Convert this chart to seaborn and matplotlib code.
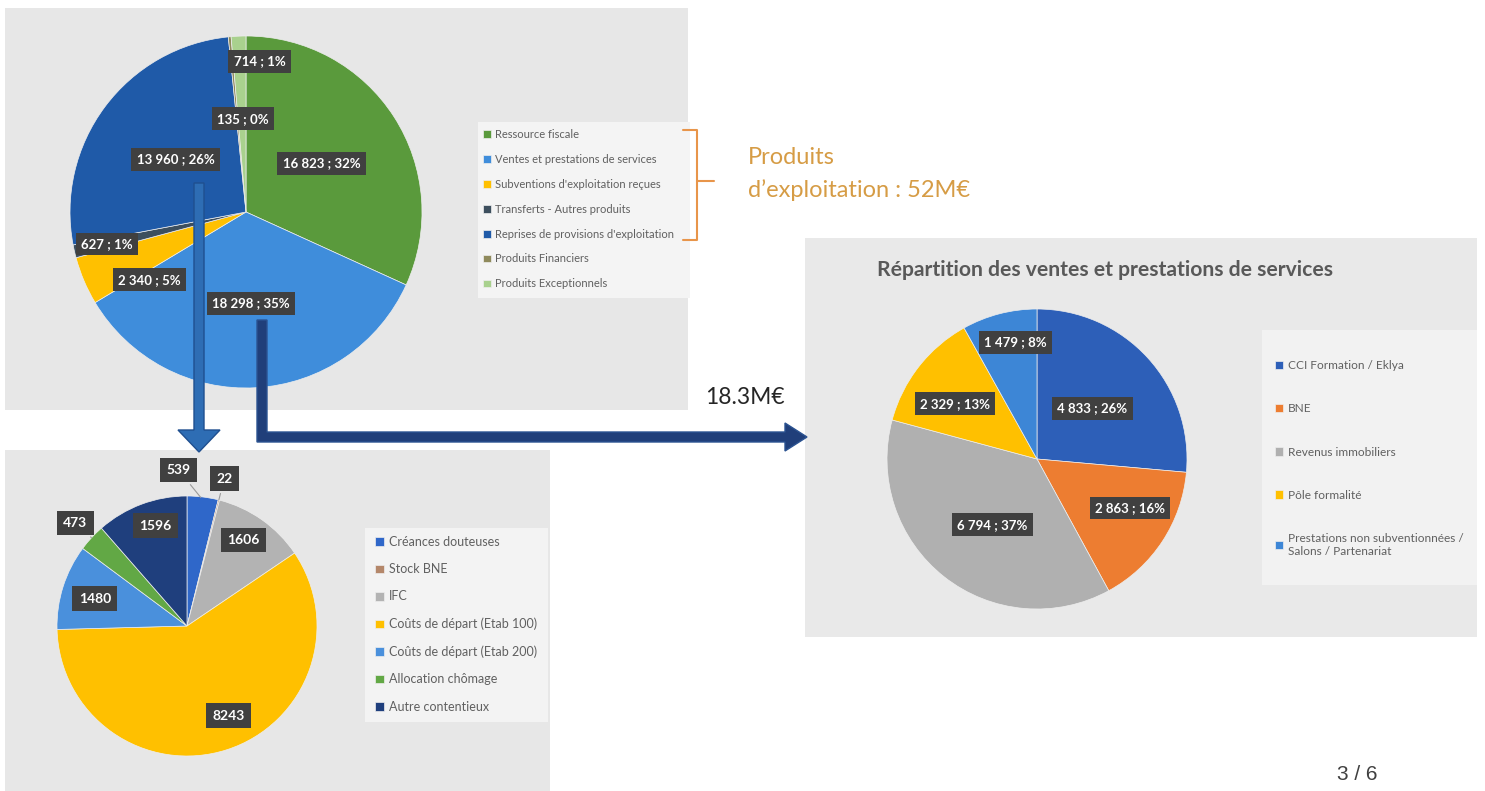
import numpy as np
import matplotlib.pyplot as plt
from matplotlib.patches import Rectangle, FancyArrow, Polygon
from matplotlib.lines import Line2D
import seaborn as sns

sns.set_theme(style="white")
plt.rcParams['font.family'] = ['Lato', 'DejaVu Sans']

# --- data ---
prod_names = ['Ressource fiscale', 'Ventes et prestations de services',
              "Subventions d'exploitation reçues", 'Transferts - Autres produits',
              "Reprises de provisions d'exploitation", 'Produits Financiers',
              'Produits Exceptionnels']
prod_values = [16823, 18298, 2340, 627, 13960, 135, 714]
prod_pcts = [32, 35, 5, 1, 26, 0, 1]

prov_names = ['Créances douteuses', 'Stock BNE', 'IFC', 'Coûts de départ (Etab 100)',
              'Coûts de départ (Etab 200)', 'Allocation chômage', 'Autre contentieux']
prov_values = [539, 22, 1606, 8243, 1480, 473, 1596]

vente_names = ['CCI Formation / Eklya', 'BNE', 'Revenus immobiliers', 'Pôle formalité',
               'Prestations non subventionnées /\nSalons / Partenariat']
vente_values = [4833, 2863, 6794, 2329, 1479]
vente_pcts = [26, 16, 37, 13, 8]

# --- styles ---
prod_colors = ['#5a9a3c', '#3f8ddb', '#ffc000', '#3d4f5e', '#1f5aa8', '#8f8a5c', '#a9d18e']
prov_colors = ['#2f67c9', '#b4876a', '#b3b3b3', '#ffc000', '#4a90dc', '#62a845', '#1f3f7d']
vente_colors = ['#2d5fb8', '#ed7d31', '#b0b0b0', '#ffc000', '#3d86d6']

W, H = 1485, 791
fig = plt.figure(figsize=(W / 100, H / 100), dpi=100)
fig.patch.set_facecolor('white')

def panel(x0, y0, x1, y1, color):
    fig.patches.append(Rectangle((x0 / W, 1 - y1 / H), (x1 - x0) / W, (y1 - y0) / H,
                                 transform=fig.transFigure, fc=color, ec='none', zorder=-5))

panel(5, 8, 688, 410, '#e7e7e7')
panel(478, 122, 690, 298, '#f4f4f4')
panel(5, 450, 550, 791, '#e7e7e7')
panel(365, 528, 548, 722, '#f3f3f3')
panel(805, 238, 1477, 637, '#e9e9e9')
panel(1262, 330, 1477, 585, '#f2f2f2')

def pie_axes(cx, cy, r, k=1.35):
    ax = fig.add_axes([(cx - k * r) / W, (H - cy - k * r) / H, 2 * k * r / W, 2 * k * r / H])
    ax.patch.set_alpha(0)
    return ax, k

def draw_pie(cx, cy, r, values, colors, texts, radii, shifts, fs, pad):
    box = dict(boxstyle=f'square,pad={pad}', fc='#404040', ec='none')
    ax, k = pie_axes(cx, cy, r)
    wedges, _ = ax.pie(values, colors=colors, startangle=90, counterclock=False,
                       wedgeprops=dict(linewidth=0.5, edgecolor='#eeeeee'))
    for w, t, rr, da in zip(wedges, texts, radii, shifts):
        mid = (w.theta1 + w.theta2) / 2
        ang = np.deg2rad(mid + da)
        pos = (rr * np.cos(ang), rr * np.sin(ang))
        if rr > 1:
            edge = (0.98 * np.cos(np.deg2rad(mid)), 0.98 * np.sin(np.deg2rad(mid)))
            ax.annotate(t, xy=edge, xytext=pos, ha='center', va='center', color='white',
                        fontsize=fs, fontweight='bold', bbox=box,
                        arrowprops=dict(arrowstyle='-', color='#9a9a9a', lw=0.8))
        else:
            ax.text(pos[0], pos[1], t, ha='center', va='center', color='white',
                    fontsize=fs, fontweight='bold', bbox=box)
    ax.set_xlim(-k, k)
    ax.set_ylim(-k, k)
    ax.set_aspect('auto')
    ax.axis('off')
    return wedges

def fmt(v):
    return f'{v:,}'.replace(',', ' ')

# top pie: produits
w_prod = draw_pie(246, 212, 176, prod_values, prod_colors,
                  [f'{fmt(v)} ; {p}%' for v, p in zip(prod_values, prod_pcts)],
                  [0.51, 0.52, 0.67, 0.81, 0.5, 0.53, 0.86],
                  [0, 0, 12, 0, 0, -3.5, -7.5], 9.5, 0.4)

# bottom-left pie: reprises de provisions
w_prov = draw_pie(187, 626, 130, prov_values, prov_colors,
                  [str(v) for v in prov_values],
                  [1.2, 1.17, 0.79, 0.76, 0.74, 1.17, 0.81],
                  [10, 0, 2, 7, 1, 0, -3], 10, 0.45)

# right pie: ventes et prestations
w_vente = draw_pie(1037, 459, 150, vente_values, vente_colors,
                   [f'{fmt(v)} ; {p}%' for v, p in zip(vente_values, vente_pcts)],
                   [0.5, 0.7, 0.53, 0.66, 0.79],
                   [0, 5.5, 4, 4, -4], 9.5, 0.4)

leg_kw = dict(loc='upper left', frameon=False, handlelength=0.7, handleheight=0.7,
              handletextpad=0.4, borderpad=0, borderaxespad=0, labelcolor='#606060')
fig.legend(w_prod, prod_names, bbox_to_anchor=(483 / W, 1 - 129 / H), fontsize=8,
           labelspacing=1.25, **leg_kw)
fig.legend(w_prov, prov_names, bbox_to_anchor=(375 / W, 1 - 536 / H), fontsize=9,
           labelspacing=1.22, **leg_kw)
fig.legend(w_vente, vente_names, bbox_to_anchor=(1275 / W, 1 - 360 / H), fontsize=8.6,
           labelspacing=2.7, **leg_kw)

# overlay in pixel coordinates for arrows and notes
ov = fig.add_axes([0, 0, 1, 1])
ov.set_xlim(0, W)
ov.set_ylim(H, 0)
ov.axis('off')
ov.patch.set_alpha(0)

ov.add_patch(FancyArrow(199, 183, 0, 269, width=10, head_width=42, head_length=22,
                        length_includes_head=True, fc='#2e6db4', ec='#1f4f8f', lw=1))
ov.add_patch(Polygon([(257, 320), (267, 320), (267, 432), (785, 432), (785, 423),
                      (807, 437), (785, 451), (785, 442), (257, 442)],
                     closed=True, fc='#203f7a', ec='#2b5391', lw=1))

orange = '#e8954a'
ov.add_line(Line2D([683, 697, 697, 683], [130, 130, 240, 240], color=orange, lw=1.5))
ov.add_line(Line2D([697, 714], [181, 181], color=orange, lw=1.5))
ov.text(748, 158, 'Produits', color='#d69c45', fontsize=17,
        ha='left', va='center')
ov.text(748, 190, 'd\u2019exploitation : 52M€', color='#d69c45', fontsize=17,
        ha='left', va='center')

ov.text(745, 398, '18.3M€', color='#262626', fontsize=16.5, ha='center', va='center')
ov.text(1105, 270, 'Répartition des ventes et prestations de services', color='#595959',
        fontsize=15.2, fontweight='bold', ha='center', va='center')
ov.text(1357, 774, '3 / 6', color='#404040', fontsize=15, ha='center', va='center',
        family=['Liberation Sans', 'DejaVu Sans'])

fig.savefig('out.png', dpi=100)
